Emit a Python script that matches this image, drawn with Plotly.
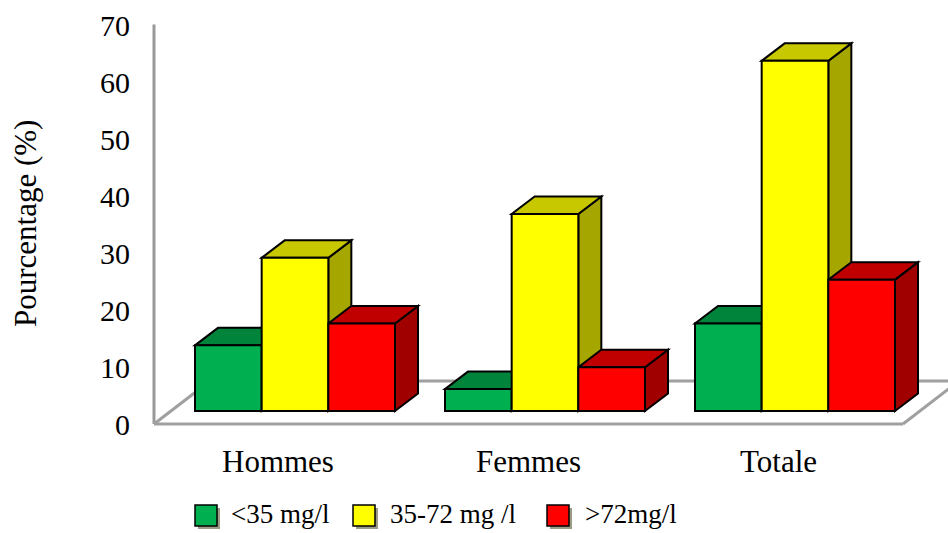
import plotly.graph_objects as go

# ---- data -------------------------------------------------------------
categories = ["Hommes", "Femmes", "Totale"]
series_names = ["<35 mg/l", "35-72 mg /l", ">72mg/l"]
low = [11.54, 3.85, 15.38]
mid = [26.92, 34.62, 61.54]
high = [15.38, 7.69, 23.08]
y_ticks = [0, 10, 20, 30, 40, 50, 60, 70]
series_values = [low, mid, high]

# ---- styling ----------------------------------------------------------
W, H = 948, 533
FONT = "Liberation Serif, Times New Roman, serif"
front_colors = ["#00B050", "#FFFF00", "#FF0000"]
top_colors = ["#00843C", "#C8C800", "#C00000"]
side_colors = ["#006B30", "#A6A600", "#A00000"]
floor_color = "#A0A0A0"

# pixel geometry of the pseudo-3D frame
px_x = 250.0      # pixels per category step
cat0_px = 295.0   # pixel x of first category centre
px_y = 5.69       # pixels per percent
base_px = 411.0   # pixel y of bar fronts' base
floor_px = 424.0  # pixel y of the floor's front edge

x_range = [-cat0_px / px_x, (W - cat0_px) / px_x]
y_range = [-(H - base_px) / px_y, base_px / px_y]
y2_range = [-(H - floor_px) / px_y, floor_px / px_y]

bar_w = 0.8 / 3
dx, dy = 23 / px_x, 17.5 / px_y            # bar depth
inset_x, inset_y = 17 / px_x, 13 / px_y    # bar front behind floor front
fdx, fdy = 56 / px_x, 43 / px_y            # floor depth

fig = go.Figure()

# front faces of the bars
for k, (name, vals) in enumerate(zip(series_names, series_values)):
    fig.add_trace(go.Bar(
        x=list(range(len(categories))), y=vals, name=name,
        width=bar_w, offset=-1.5 * bar_w + k * bar_w,
        marker=dict(color=front_colors[k], line=dict(color="black", width=2)),
        showlegend=False, hoverinfo="skip",
    ))

# carrier trace for the visible value axis
fig.add_trace(go.Scatter(x=[None], y=[None], yaxis="y2", showlegend=False,
                         hoverinfo="skip"))

shapes = []

# floor outline
fl_x = (154 - cat0_px) / px_x
fr_x = (903 - cat0_px) / px_x
f_y = -inset_y
floor_pts = [((fl_x, f_y), (fr_x, f_y)),
             ((fl_x, f_y), (fl_x + fdx, f_y + fdy)),
             ((fr_x, f_y), (fr_x + fdx, f_y + fdy)),
             ((fl_x + fdx, f_y + fdy), (fr_x + fdx, f_y + fdy))]
for (a, b) in floor_pts:
    shapes.append(dict(type="line", xref="x", yref="y", x0=a[0], y0=a[1],
                       x1=b[0], y1=b[1], layer="below",
                       line=dict(color=floor_color, width=3)))

# value axis line
shapes.append(dict(type="line", xref="paper", yref="y2", x0=154 / W, x1=154 / W,
                   y0=0, y1=70.2, layer="below",
                   line=dict(color="#999999", width=3)))

# top and side faces, drawn left to right
for i in range(len(categories)):
    for k, vals in enumerate(series_values):
        v = vals[i]
        xl = i - 1.5 * bar_w + k * bar_w
        xr = xl + bar_w
        side = (f"M {xr},0 L {xr + dx},{dy} L {xr + dx},{v + dy} "
                f"L {xr},{v} Z")
        top = (f"M {xl},{v} L {xr},{v} L {xr + dx},{v + dy} "
               f"L {xl + dx},{v + dy} Z")
        shapes.append(dict(type="path", path=side, xref="x", yref="y",
                           layer="below", fillcolor=side_colors[k],
                           line=dict(color="black", width=2)))
        shapes.append(dict(type="path", path=top, xref="x", yref="y",
                           layer="below", fillcolor=top_colors[k],
                           line=dict(color="black", width=2)))

annotations = []

# category labels centred under the floor front
for i, c in enumerate(categories):
    annotations.append(dict(text=c, x=i - inset_x, xref="x", y=1 - 461 / H,
                            yref="paper", xanchor="center", yanchor="middle",
                            showarrow=False,
                            font=dict(family=FONT, size=31, color="black")))

# axis title
annotations.append(dict(text="Pourcentage (%)", x=25 / W, y=1 - 224 / H,
                        xref="paper", yref="paper", textangle=-90,
                        xanchor="center", yanchor="middle", showarrow=False,
                        font=dict(family=FONT, size=31, color="black")))

# legend
box_left = [195, 353, 547]
text_left = [229, 388, 583]
box_top, box_bot = 505, 526
for k, name in enumerate(series_names):
    bx = box_left[k]
    shapes.append(dict(type="rect", xref="paper", yref="paper",
                       x0=(bx + 3) / W, x1=(bx + 25) / W,
                       y0=1 - (box_bot + 3) / H, y1=1 - (box_top + 3) / H,
                       fillcolor="#9C9C86", line=dict(width=0)))
    shapes.append(dict(type="rect", xref="paper", yref="paper",
                       x0=bx / W, x1=(bx + 22) / W,
                       y0=1 - box_bot / H, y1=1 - box_top / H,
                       fillcolor=front_colors[k],
                       line=dict(color="black", width=1.5)))
    annotations.append(dict(text=name, x=text_left[k] / W, y=1 - 514 / H,
                            xref="paper", yref="paper", xanchor="left",
                            yanchor="middle", showarrow=False,
                            font=dict(family=FONT, size=27, color="black")))

fig.update_layout(
    width=W, height=H,
    margin=dict(l=0, r=0, t=0, b=0),
    paper_bgcolor="white", plot_bgcolor="white",
    barmode="overlay",
    showlegend=False,
    xaxis=dict(range=x_range, domain=[0, 1], visible=False, fixedrange=True),
    yaxis=dict(range=y_range, domain=[0, 1], visible=False, fixedrange=True),
    yaxis2=dict(range=y2_range, overlaying="y", anchor="free",
                position=154 / W, side="left", tickvals=y_ticks,
                showgrid=False, zeroline=False, showline=False, ticks="",
                ticklabelstandoff=24,
                tickfont=dict(family=FONT, size=30, color="black")),
    shapes=shapes,
    annotations=annotations,
)

fig.write_html("out.html")
